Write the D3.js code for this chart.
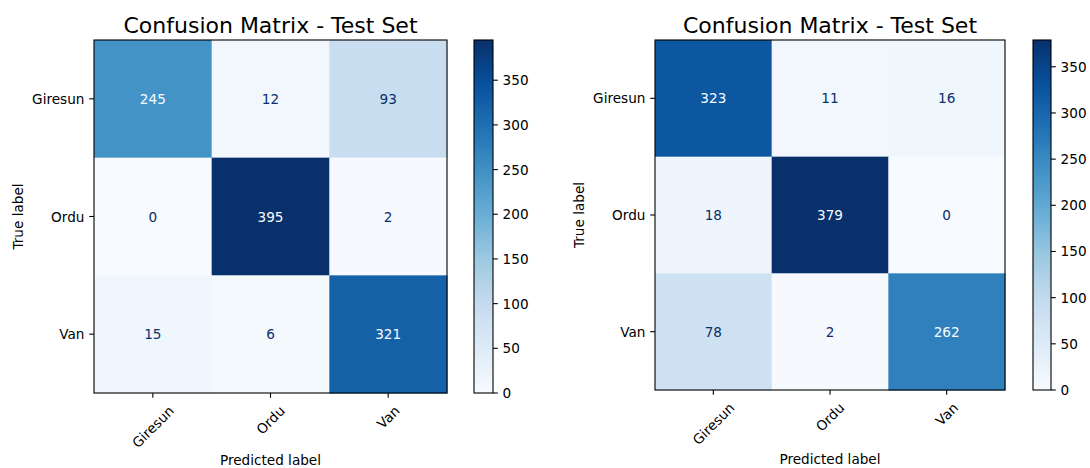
<!DOCTYPE html>
<html><head><meta charset="utf-8">
<script src="https://cdn.jsdelivr.net/npm/d3@7"></script>
<style>
html,body{margin:0;padding:0;background:#fff;}
svg{display:block;font-family:"DejaVu Sans",sans-serif;}
</style></head>
<body>
<svg id="chart" width="1090" height="468"></svg>
<script>
const classes = ["Giresun", "Ordu", "Van"];
const cmLeft = [[245, 12, 93], [0, 395, 2], [15, 6, 321]];
const cmRight = [[323, 11, 16], [18, 379, 0], [78, 2, 262]];
const cbTicks = [0, 50, 100, 150, 200, 250, 300, 350];
const titleText = "Confusion Matrix - Test Set";
const xLabelText = "Predicted label";
const yLabelText = "True label";
const bluesColors = ["#f7fbff","#deebf7","#c6dbef","#9ecae1","#6baed6","#4292c6","#2171b5","#08519c","#08306b"];

const blues = d3.scaleLinear().domain(d3.range(9).map(i => i / 8)).range(bluesColors).clamp(true);

const svg = d3.select("#chart");
const FS = 13.6, TL = 4.8, PAD = 4.8, LW = 1.1;

function panel(cm, L) {
  const g = svg.append("g");
  const flat = cm.flat();
  const vmin = d3.min(flat), vmax = d3.max(flat);
  const norm = d3.scaleLinear().domain([vmin, vmax]).range([0, 1]);
  const x = d3.scaleBand().domain(classes).range([L.x0, L.x1]);
  const y = d3.scaleBand().domain(classes).range([L.y0, L.y1]);
  const thresh = (vmax + vmin) / 2;

  // cells
  cm.forEach((row, i) => row.forEach((v, j) => {
    g.append("rect").attr("x", x(classes[j])).attr("y", y(classes[i]))
      .attr("width", x.bandwidth() + 0.5).attr("height", y.bandwidth() + 0.5)
      .attr("fill", blues(norm(v)));
  }));
  cm.forEach((row, i) => row.forEach((v, j) => {
    g.append("text").attr("x", x(classes[j]) + x.bandwidth() / 2)
      .attr("y", y(classes[i]) + y.bandwidth() / 2)
      .attr("text-anchor", "middle").attr("dominant-baseline", "central")
      .attr("font-size", FS)
      .attr("fill", v < thresh ? blues(1) : blues(0))
      .text(v);
  }));
  // frame
  g.append("rect").attr("x", L.x0).attr("y", L.y0).attr("width", L.x1 - L.x0).attr("height", L.y1 - L.y0)
    .attr("fill", "none").attr("stroke", "#000").attr("stroke-width", LW);

  // y ticks
  classes.forEach(c => {
    const yy = y(c) + y.bandwidth() / 2;
    g.append("line").attr("x1", L.x0 - TL).attr("x2", L.x0).attr("y1", yy).attr("y2", yy)
      .attr("stroke", "#000").attr("stroke-width", LW);
    g.append("text").attr("x", L.x0 - TL - PAD).attr("y", yy)
      .attr("text-anchor", "end").attr("dominant-baseline", "central")
      .attr("font-size", FS).attr("fill", "#000").text(c);
  });
  // x ticks
  classes.forEach(c => {
    const xx = x(c) + x.bandwidth() / 2;
    g.append("line").attr("x1", xx).attr("x2", xx).attr("y1", L.y1).attr("y2", L.y1 + TL)
      .attr("stroke", "#000").attr("stroke-width", LW);
    const t = g.append("text").attr("text-anchor", "middle").attr("dominant-baseline", "central")
      .attr("font-size", FS).attr("fill", "#000").text(c);
    const w = t.node().getComputedTextLength();
    const h = FS * 1.16;
    const bh = (w + h) * Math.SQRT1_2;
    const top = L.y1 + TL + PAD;
    t.attr("transform", `translate(${xx},${top + bh / 2}) rotate(-45)`);
  });
  // axis labels
  g.append("text").attr("x", (L.x0 + L.x1) / 2).attr("y", L.xlabY)
    .attr("text-anchor", "middle").attr("font-size", FS).attr("fill", "#000").text(xLabelText);
  g.append("text").attr("transform", `translate(${L.ylabX},${(L.y0 + L.y1) / 2}) rotate(-90)`)
    .attr("text-anchor", "middle").attr("dominant-baseline", "central")
    .attr("font-size", FS).attr("fill", "#000").text(yLabelText);
  // title
  g.append("text").attr("x", (L.x0 + L.x1) / 2).attr("y", L.titleY)
    .attr("text-anchor", "middle").attr("font-size", 22).attr("fill", "#000").text(titleText);

  // colorbar
  const cy = d3.scaleLinear().domain([vmin, vmax]).range([L.y1, L.y0]);
  const gid = "grad" + L.id;
  const grad = svg.append("defs").append("linearGradient").attr("id", gid)
    .attr("x1", 0).attr("y1", 1).attr("x2", 0).attr("y2", 0);
  d3.range(0, 1.0001, 1 / 64).forEach(t => {
    grad.append("stop").attr("offset", t).attr("stop-color", blues(t));
  });
  g.append("rect").attr("x", L.cb0).attr("y", L.y0).attr("width", L.cb1 - L.cb0).attr("height", L.y1 - L.y0)
    .attr("fill", `url(#${gid})`).attr("stroke", "#000").attr("stroke-width", LW);
  cbTicks.filter(v => v >= vmin && v <= vmax).forEach(v => {
    const yy = cy(v);
    g.append("line").attr("x1", L.cb1).attr("x2", L.cb1 + TL).attr("y1", yy).attr("y2", yy)
      .attr("stroke", "#000").attr("stroke-width", LW);
    g.append("text").attr("x", L.cb1 + TL + PAD).attr("y", yy)
      .attr("dominant-baseline", "central").attr("font-size", FS).attr("fill", "#000").text(v);
  });
}

panel(cmLeft, {id: "L", x0: 94, x1: 447, y0: 40, y1: 393, cb0: 474, cb1: 493, xlabY: 465, ylabX: 18, titleY: 33});
panel(cmRight, {id: "R", x0: 655, x1: 1005, y0: 40, y1: 390, cb0: 1033, cb1: 1051, xlabY: 464, ylabX: 579, titleY: 33});
</script>
</body></html>
